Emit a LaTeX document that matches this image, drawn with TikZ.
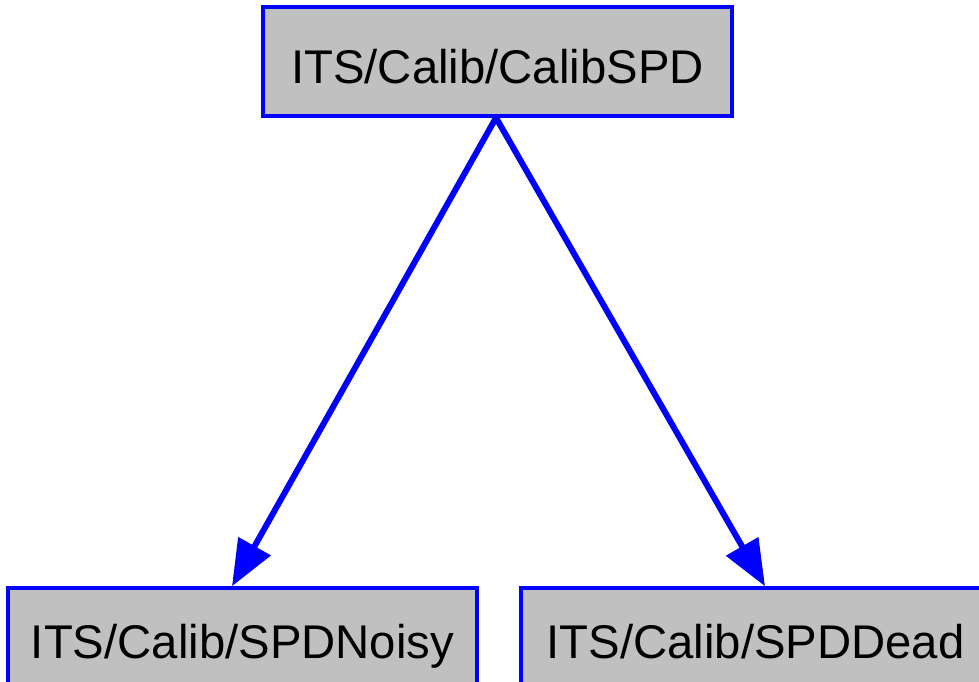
\documentclass[tikz,border=0pt]{standalone}
\usepackage{fontspec}
\setmainfont{Liberation Sans}
\usetikzlibrary{arrows.meta}
\definecolor{boxgray}{RGB}{192,192,192}
\begin{document}
\begin{tikzpicture}[x=1pt,y=-1pt,
  box/.style={draw=blue, fill=boxgray, line width=3.5pt, minimum width=469pt, minimum height=109pt,
    inner sep=0pt, font=\fontsize{47.3pt}{50pt}\selectfont, text depth=0pt},
  topbox/.style={box, text height=43pt},
  lowbox/.style={box, text height=31pt},
  edge/.style={draw=blue, line width=6pt, -{Triangle[length=46pt,width=36pt]}, shorten >=0pt}]
\useasboundingbox (0,0) rectangle (979,681);
\node[topbox] (top) at (497.5,61.5) {ITS/Calib/CalibSPD};
\node[lowbox] (noisy) at (242.5,642.5) {ITS/Calib/SPDNoisy};
\node[lowbox] (dead) at (755.5,642.5) {ITS/Calib/SPDDead};
\draw[edge] ([xshift=-1.5pt]top.south) -- ([xshift=-10.5pt]noisy.north);
\draw[edge] ([xshift=-1.5pt]top.south) -- ([xshift=9.5pt]dead.north);
\end{tikzpicture}
\end{document}
